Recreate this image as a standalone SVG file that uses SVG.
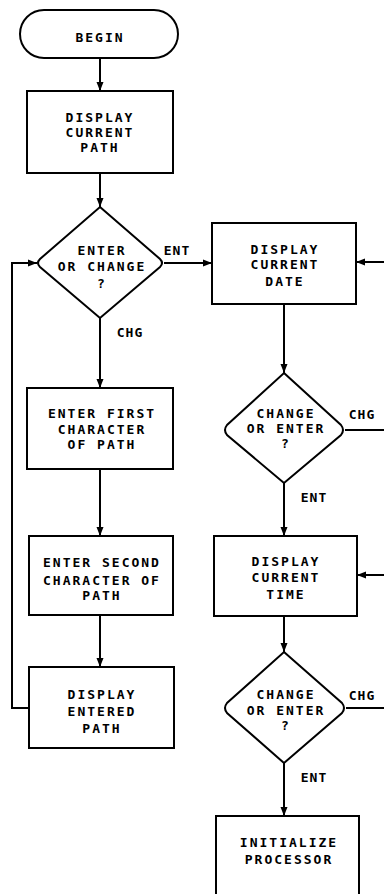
<svg xmlns="http://www.w3.org/2000/svg" width="384" height="894" viewBox="0 0 384 894">
<style>
.s{fill:#fff;stroke:#000;stroke-width:2}
.t{font-family:"DejaVu Sans Mono","Liberation Mono",monospace;font-weight:bold;font-size:13px;letter-spacing:2px;text-anchor:middle;fill:#000}
.l{font-family:"DejaVu Sans Mono","Liberation Mono",monospace;font-weight:bold;font-size:13px;letter-spacing:1px;text-anchor:middle;fill:#000}
.c{fill:none;stroke:#000;stroke-width:2}
</style>
<defs>
<marker id="a" markerUnits="userSpaceOnUse" markerWidth="10" markerHeight="8" refX="9" refY="4" orient="auto">
<path d="M0,0.5 L9,4 L0,7.5 z" fill="#000"/>
</marker>
</defs>
<rect width="384" height="894" fill="#fff"/>
<g id="connectors">
<path class="c" d="M100,58 V91" marker-end="url(#a)"/>
<path class="c" d="M100,173 V207" marker-end="url(#a)"/>
<path class="c" d="M164,263 H212" marker-end="url(#a)"/>
<path class="c" d="M100,318 V388" marker-end="url(#a)"/>
<path class="c" d="M100,469 V536" marker-end="url(#a)"/>
<path class="c" d="M100,615 V667" marker-end="url(#a)"/>
<path class="c" d="M29,708 H12 V263 H37" marker-end="url(#a)"/>
<path class="c" d="M284,304 V373" marker-end="url(#a)"/>
<path class="c" d="M345,430 H384"/>
<path class="c" d="M384,262 H356" marker-end="url(#a)"/>
<path class="c" d="M284,483 V536" marker-end="url(#a)"/>
<path class="c" d="M384,575 H357" marker-end="url(#a)"/>
<path class="c" d="M284,616 V652" marker-end="url(#a)"/>
<path class="c" d="M346,708 H384"/>
<path class="c" d="M284,763 V816" marker-end="url(#a)"/>
<text class="l" x="177" y="255">ENT</text>
<text class="l" x="130" y="337">CHG</text>
<text class="l" x="362" y="419">CHG</text>
<text class="l" x="314" y="502">ENT</text>
<text class="l" x="362" y="700">CHG</text>
<text class="l" x="314" y="782">ENT</text>
</g>
<g id="begin">
<rect class="s" x="20" y="10" width="158" height="48" rx="24"/>
<text class="t" x="100" y="42">BEGIN</text>
</g>
<g id="display-path">
<rect class="s" x="27" y="91" width="146" height="82"/>
<text class="t" x="100" y="122">DISPLAY</text>
<text class="t" x="100" y="137">CURRENT</text>
<text class="t" x="100" y="152">PATH</text>
</g>
<g id="decision-enter-change">
<path class="s" d="M100,207 L160,259 Q164,263 160,267 L100,318 L40,267 Q36,263 40,259 Z"/>
<text class="t" x="102" y="255">ENTER</text>
<text class="t" x="102" y="271">OR CHANGE</text>
<text class="t" x="102" y="288">?</text>
</g>
<g id="enter-first">
<rect class="s" x="27" y="388" width="146" height="81"/>
<text class="t" x="102" y="418">ENTER FIRST</text>
<text class="t" x="102" y="434">CHARACTER</text>
<text class="t" x="102" y="449">OF PATH</text>
</g>
<g id="enter-second">
<rect class="s" x="29" y="536" width="144" height="79"/>
<text class="t" x="102" y="567">ENTER SECOND</text>
<text class="t" x="102" y="585">CHARACTER OF</text>
<text class="t" x="102" y="600">PATH</text>
</g>
<g id="display-entered">
<rect class="s" x="29" y="667" width="145" height="81"/>
<text class="t" x="102" y="699">DISPLAY</text>
<text class="t" x="102" y="716">ENTERED</text>
<text class="t" x="102" y="733">PATH</text>
</g>
<g id="display-date">
<rect class="s" x="212" y="223" width="144" height="81"/>
<text class="t" x="285" y="254">DISPLAY</text>
<text class="t" x="285" y="269">CURRENT</text>
<text class="t" x="285" y="286">DATE</text>
</g>
<g id="decision-date">
<path class="s" d="M284,373 L341,425 Q345,430 341,435 L284,483 L227,435 Q223,430 227,425 Z"/>
<text class="t" x="286" y="418">CHANGE</text>
<text class="t" x="286" y="433">OR ENTER</text>
<text class="t" x="286" y="448">?</text>
</g>
<g id="display-time">
<rect class="s" x="214" y="536" width="143" height="80"/>
<text class="t" x="286" y="566">DISPLAY</text>
<text class="t" x="286" y="582">CURRENT</text>
<text class="t" x="286" y="599">TIME</text>
</g>
<g id="decision-time">
<path class="s" d="M284,652 L342,703 Q346,708 342,713 L284,763 L227,713 Q223,708 227,703 Z"/>
<text class="t" x="286" y="699">CHANGE</text>
<text class="t" x="286" y="715">OR ENTER</text>
<text class="t" x="286" y="730">?</text>
</g>
<g id="initialize">
<rect class="s" x="216" y="816" width="143" height="90"/>
<text class="t" x="289" y="847">INITIALIZE</text>
<text class="t" x="289" y="864">PROCESSOR</text>
</g>
</svg>
